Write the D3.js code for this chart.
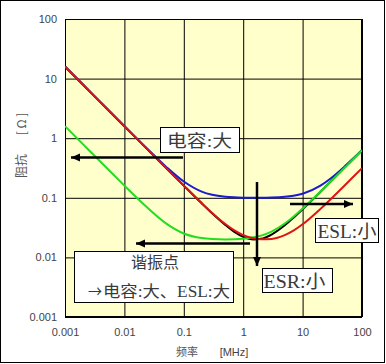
<!DOCTYPE html>
<html><head><meta charset="utf-8">
<script src="https://cdn.jsdelivr.net/npm/d3@7"></script>
<style>body{margin:0;background:#fff}svg{display:block}</style>
</head><body>
<svg id="c" width="386" height="364"></svg>
<script>
// Frequencies [MHz]
const freqs = [0.001,0.002,0.005,0.01,0.02,0.05,0.1,0.2,0.3,0.5,0.7,1,1.5,2,3,5,7,10,20,30,50,70,100];
// Impedance [Ω]
const zBase  = [15.92,7.96,3.18,1.59,0.796,0.3186,0.1598,0.0808,0.0549,0.0350,0.0271,0.0222,0.0200,0.0205,0.0242,0.0346,0.0463,0.0644,0.1265,0.1891,0.3144,0.4401,0.6285];
const zESR   = [15.92,7.96,3.18,1.59,0.802,0.3334,0.1874,0.1270,0.1123,0.1040,0.1017,0.1005,0.1000,0.1001,0.1009,0.1039,0.1083,0.1172,0.1600,0.2129,0.3294,0.4508,0.6361];
const zCap   = [1.592,0.796,0.3189,0.1603,0.0820,0.0373,0.0252,0.0211,0.0203,0.0200,0.0201,0.0205,0.0217,0.0232,0.0271,0.0370,0.0481,0.0658,0.1272,0.1896,0.3148,0.4403,0.6286];
const zESL   = [15.92,7.96,3.18,1.59,0.796,0.3189,0.160,0.0815,0.0558,0.0363,0.0287,0.0237,0.0209,0.0201,0.0204,0.0236,0.0281,0.0359,0.0652,0.0958,0.158,0.2208,0.315];
const xTicks = [0.001,0.01,0.1,1,10,100];
const xTickLabels = ["0.001","0.01","0.1","1","10","100"];
const yTicks = [0.001,0.01,0.1,1,10,100];
const yTickLabels = ["0.001","0.01","0.1","1","10","100"];
const seriesColors = ["#000000","#1a1ad0","#22dd22","#e01414"];

const svg = d3.select("#c");
const L=65, T=19, R=362, B=317;
const x = d3.scaleLog().domain([0.001,100]).range([L,R]);
const y = d3.scaleLog().domain([0.001,100]).range([B,T]);

svg.append("rect").attr("x",0.5).attr("y",0.5).attr("width",384).attr("height",362)
  .attr("fill","#fff").attr("stroke","#000");
svg.append("rect").attr("x",L).attr("y",T).attr("width",R-L).attr("height",B-T).attr("fill","#ffffcc");

// grid
const g = svg.append("g");
g.append("g").attr("transform",`translate(0,${B})`)
  .call(d3.axisBottom(x).tickValues(xTicks).tickSize(-(B-T)).tickFormat((d,i)=>xTickLabels[i]).tickPadding(11))
  .call(a=>{a.select(".domain").remove();a.selectAll("line").attr("stroke","#000");
    a.selectAll("text").attr("font-family","Liberation Sans, Arial, sans-serif").attr("font-size",11).attr("fill","#444");});
g.append("g").attr("transform",`translate(${L},0)`)
  .call(d3.axisLeft(y).tickValues(yTicks).tickSize(-(R-L)).tickFormat((d,i)=>yTickLabels[i]).tickPadding(8))
  .call(a=>{a.select(".domain").remove();a.selectAll("line").attr("stroke","#000");
    a.selectAll("text").attr("font-family","Liberation Sans, Arial, sans-serif").attr("font-size",11).attr("fill","#444");});
svg.append("rect").attr("x",L+0.5).attr("y",T+0.5).attr("width",R-L-1).attr("height",B-T-1).attr("fill","none").attr("stroke","#000");

svg.append("clipPath").attr("id","clip").append("rect").attr("x",L).attr("y",T).attr("width",R-L).attr("height",B-T);
const line = d3.line().x(d=>x(d[0])).y(d=>y(d[1])).curve(d3.curveMonotoneX);
const series = [zBase,zESR,zCap,zESL];
series.forEach((s,i)=>{
  svg.append("path").attr("clip-path","url(#clip)")
    .attr("d",line(freqs.map((f,j)=>[f,s[j]])))
    .attr("fill","none").attr("stroke",seriesColors[i]).attr("stroke-width",2);
});

// arrows
function arrow(x1,y1,x2,y2){
  svg.append("line").attr("x1",x1).attr("y1",y1).attr("x2",x2).attr("y2",y2)
    .attr("stroke","#000").attr("stroke-width",2.5);
  const a=Math.atan2(y2-y1,x2-x1), len=9, w=4;
  const p=[[x2,y2],[x2-len*Math.cos(a)+w*Math.sin(a),y2-len*Math.sin(a)-w*Math.cos(a)],[x2-len*Math.cos(a)-w*Math.sin(a),y2-len*Math.sin(a)+w*Math.cos(a)]];
  svg.append("polygon").attr("points",p.map(q=>q.join(",")).join(" ")).attr("fill","#000");
}
arrow(183,157.5,71,157.5);
arrow(250,243.5,136,243.5);
arrow(257,182,257,266);
arrow(290,204,353,204);

const font="Liberation Serif, 'Noto Sans CJK SC', serif";
function box(x0,y0,w,h){
  svg.append("rect").attr("x",x0+0.5).attr("y",y0+0.5).attr("width",w).attr("height",h).attr("fill","#fff").attr("stroke","#000");
}
function txt(s,x0,by,size,len,fam){
  const t=svg.append("text").attr("x",x0).attr("y",by).attr("font-family",fam||font).attr("font-size",size).attr("fill","#3a3a3a").text(s);
  if(len) t.attr("textLength",len).attr("lengthAdjust","spacingAndGlyphs");
  return t;
}
box(160,127,79,25);
txt("电容:大",167,146.5,17,65);
box(74,251,159,51);
txt("谐振点",131,268,16,48);
txt("→",88,297,16,14,"'Noto Sans CJK SC', sans-serif");
txt("电容:大、ESL:大",103,297,16,127);
box(262,268,70,24);
txt("ESR:小",263.5,288,18,62);
box(315,218,63,24);
txt("ESL:小",317.5,238,18,59);

// axis titles
svg.append("text").attr("x",187).attr("y",356).attr("text-anchor","middle").attr("font-family","'Noto Sans CJK SC', sans-serif").attr("font-size",11).attr("fill","#555").text("频率");
svg.append("text").attr("x",234).attr("y",356).attr("text-anchor","middle").attr("font-family","Liberation Sans, Arial, sans-serif").attr("font-size",11).attr("fill","#444").text("[MHz]");
svg.append("text").attr("transform","translate(26,166) rotate(-90)").attr("text-anchor","middle").attr("font-family","'Noto Sans CJK SC', sans-serif").attr("font-size",12).attr("fill","#555").text("阻抗");
svg.append("text").attr("transform","translate(26,124) rotate(-90)").attr("text-anchor","middle").attr("font-family","'Noto Sans CJK SC', sans-serif").attr("font-size",12).attr("fill","#555").text("[ Ω ]");
</script>
</body></html>
